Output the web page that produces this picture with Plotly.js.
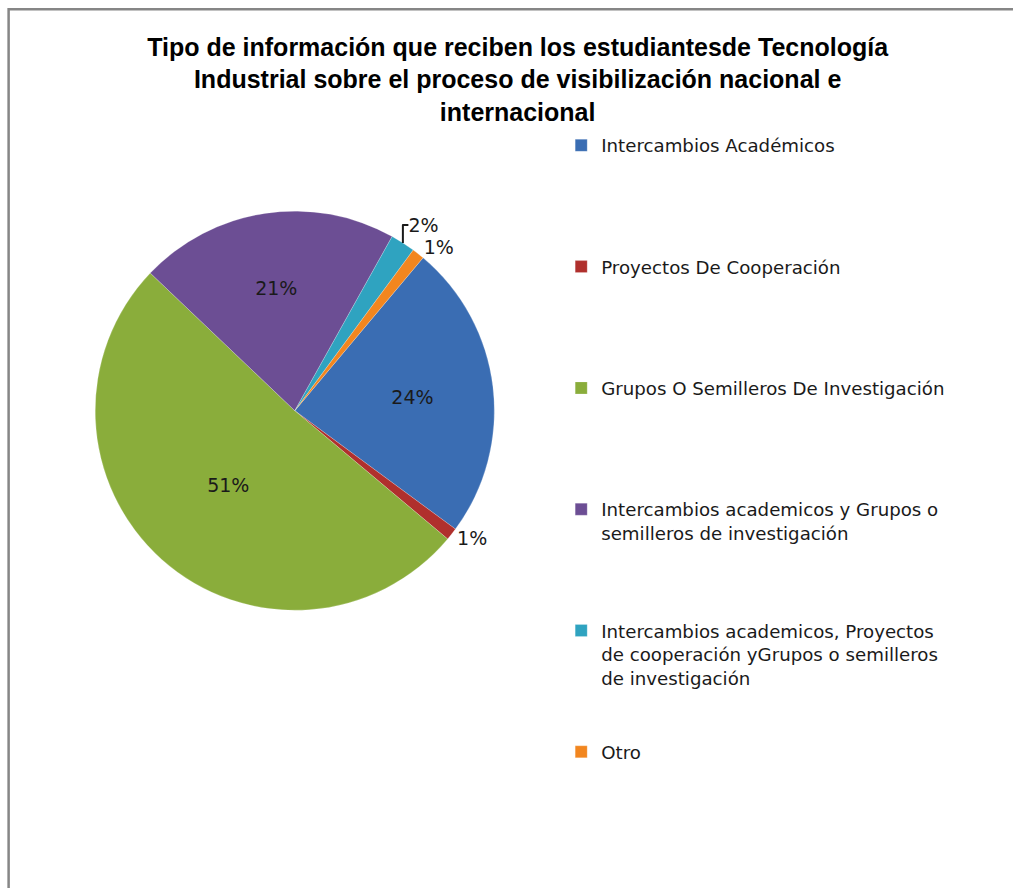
<!DOCTYPE html>
<html>
<head>
<meta charset="utf-8">
<script src="https://cdn.plot.ly/plotly-3.0.1.min.js"></script>
<style>html,body{margin:0;padding:0;background:#fff;}#chart{width:1013px;height:888px;}</style>
</head>
<body>
<div id="chart"></div>
<script>
const categories = [
  "Intercambios Académicos",
  "Proyectos De Cooperación",
  "Grupos O Semilleros De Investigación",
  "Intercambios academicos y Grupos o<br>semilleros de investigación",
  "Intercambios academicos, Proyectos<br>de cooperación yGrupos o semilleros<br>de investigación",
  "Otro"
];
const values = [24, 1, 51, 21, 2, 1];
const colors = ["#3a6db3", "#b0302d", "#8aad3b", "#6c4e94", "#2fa3c0", "#f2861f"];
const titleText = "Tipo de información que reciben los estudiantesde Tecnología<br>Industrial sobre el proceso de visibilización nacional e<br>internacional";

// pad legend entries so that each one takes the same vertical room
const ITEM_LINES = 5;
const legendLabels = categories.map(c => {
  const n = c.split("<br>").length;
  let s = c;
  for (let i = n; i < ITEM_LINES; i++) s += "<br> ";
  return s;
});
const textPos = values.map(v => v >= 5 ? "inside" : "outside");

const trace = {
  type: "pie",
  labels: legendLabels,
  values: values,
  sort: false,
  direction: "clockwise",
  rotation: 40,
  marker: {colors: colors, line: {color: "rgba(255,255,255,0.4)", width: 0.5}},
  texttemplate: "%{percent:.0%}",
  textposition: textPos,
  insidetextorientation: "horizontal",
  textfont: {family: "DejaVu Sans, sans-serif", size: 19, color: "#1a1a1a"},
  outsidetextfont: {family: "DejaVu Sans, sans-serif", size: 19, color: "#1a1a1a"},
  domain: {x: [0.094, 0.488], y: [0.31, 0.765]},
  hoverinfo: "label+percent",
  automargin: false
};

const layout = {
  width: 1013,
  height: 888,
  margin: {l: 0, r: 0, t: 0, b: 0},
  paper_bgcolor: "#ffffff",
  showlegend: true,
  title: {
    text: titleText,
    x: 0.511,
    xanchor: "center",
    y: 0.937,
    yanchor: "top",
    font: {family: "Liberation Sans Narrow, Liberation Sans, sans-serif", size: 25, color: "#000", weight: "bold"}
  },
  legend: {
    x: 0.554,
    xanchor: "left",
    y: 0.857,
    yanchor: "top",
    valign: "top",
    bgcolor: "rgba(0,0,0,0)",
    font: {family: "DejaVu Sans, sans-serif", size: 18.2, color: "#1a1a1a"},
    itemclick: false,
    itemdoubleclick: false
  },
  shapes: [{
    type: "rect", xref: "paper", yref: "paper",
    x0: 0.0085, x1: 1.05, y0: -0.05, y1: 0.9895,
    line: {color: "#868686", width: 2.5},
    fillcolor: "rgba(0,0,0,0)", layer: "below"
  }]
};

Plotly.newPlot("chart", [trace], layout, {displayModeBar: false, staticPlot: true});
</script>
</body>
</html>
